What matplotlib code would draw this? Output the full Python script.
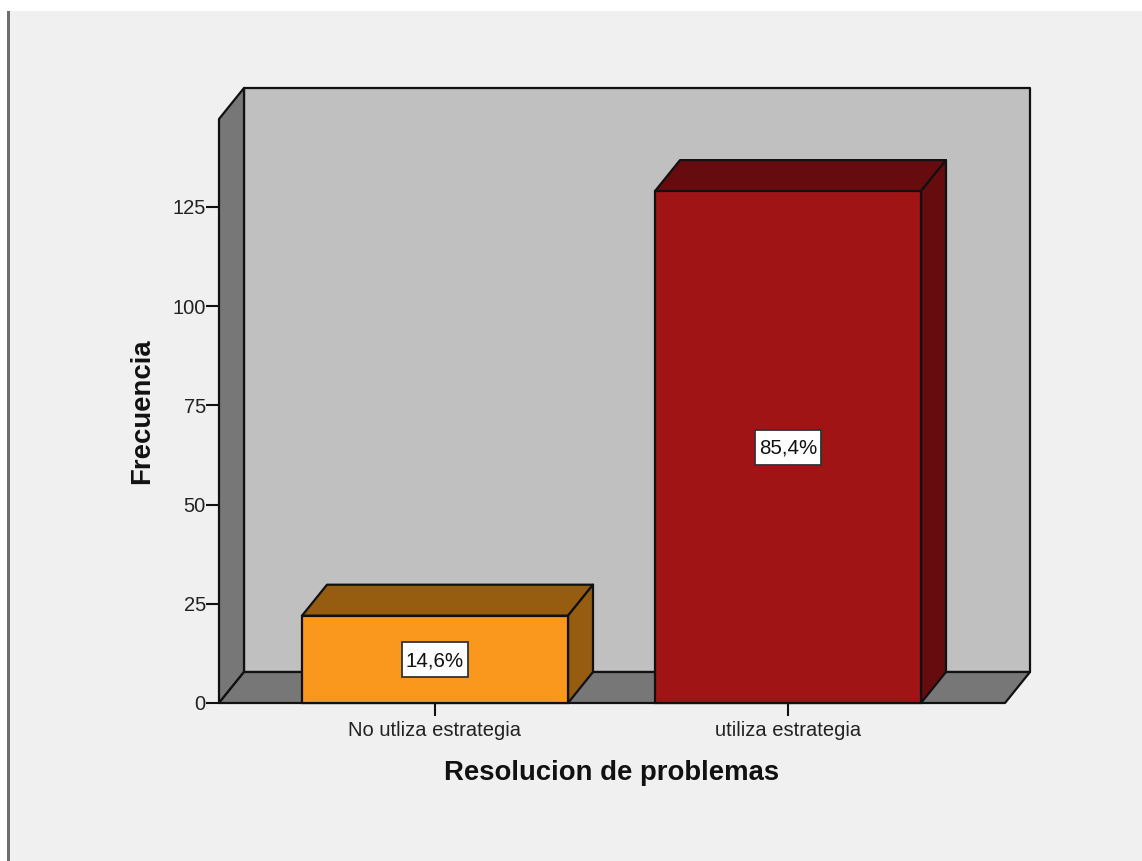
import matplotlib
matplotlib.use("Agg")
import matplotlib.pyplot as plt
from matplotlib.patches import Polygon, Rectangle

categories = ["No utliza estrategia", "utiliza estrategia"]
counts = [22, 129]
pct_labels = ["14,6%", "85,4%"]
yticks = [0, 25, 50, 75, 100, 125]

W, H = 1142, 861
plt.rcParams["font.family"] = ["Liberation Sans", "DejaVu Sans"]

fig = plt.figure(figsize=(W / 100, H / 100), dpi=100, facecolor="white")

# light panel + dark line on the left, in pixel coords
fig.patches.append(Rectangle((8 / W, 0), 1, 1 - 11 / H, transform=fig.transFigure,
                             facecolor="#f0f0f0", edgecolor="none", zorder=-5))
fig.patches.append(Rectangle((7 / W, 0), 3 / W, 1 - 11 / H, transform=fig.transFigure,
                             facecolor="#6e6e6e", edgecolor="none", zorder=-4))

# front plane of the chart
left, right, bottom = 219, 1005, 703
px_per_unit = 3.968
ymax = (bottom - 119) / px_per_unit
ax = fig.add_axes([left / W, 1 - bottom / H, (right - left) / W, (bottom - 119) / H])
ax.patch.set_visible(False)
ax.set_ylim(0, ymax)

spacing = 353
x0 = -(435 - left) / spacing
ax.set_xlim(x0, x0 + (right - left) / spacing)
bar_w = 266 / spacing
dx = 25 / spacing
dy = 31 / px_per_unit

for s in ax.spines.values():
    s.set_visible(False)

edge = "#111111"
lw = 1.6


def poly(pts, color, z):
    ax.add_patch(Polygon(pts, closed=True, facecolor=color, edgecolor=edge,
                         linewidth=lw, joinstyle="round", clip_on=False, zorder=z))


xl, xr = x0, x0 + (right - left) / spacing
# back wall, left wall, floor
poly([(xl + dx, dy), (xr + dx, dy), (xr + dx, ymax + dy), (xl + dx, ymax + dy)], "#c0c0c0", 1)
poly([(xl, 0), (xl + dx, dy), (xl + dx, ymax + dy), (xl, ymax)], "#777777", 2)
poly([(xl, 0), (xr, 0), (xr + dx, dy), (xl + dx, dy)], "#777777", 2)

front_colors = ["#fa981e", "#a01416"]
top_colors = ["#965c10", "#660c0f"]
side_colors = ["#965c10", "#660c0f"]

bars = ax.bar(range(len(counts)), counts, width=bar_w, color=front_colors,
              edgecolor=edge, linewidth=lw, zorder=5, clip_on=False)

box_w = 66 / spacing
box_h = 35 / px_per_unit
for i, rect in enumerate(bars):
    x1, x2 = rect.get_x(), rect.get_x() + rect.get_width()
    h = rect.get_height()
    poly([(x1, h), (x2, h), (x2 + dx, h + dy), (x1 + dx, h + dy)], top_colors[i], 4)
    poly([(x2, 0), (x2 + dx, dy), (x2 + dx, h + dy), (x2, h)], side_colors[i], 4)
    ax.add_patch(Rectangle((i - box_w / 2, h / 2 - box_h / 2), box_w, box_h, facecolor="white",
                           edgecolor="#333333", linewidth=1.3, zorder=6))
    ax.text(i, h / 2 - 0.3, pct_labels[i], ha="center", va="center", fontsize=14.8,
            color="#111111", zorder=7)

ax.set_yticks(yticks)
ax.set_xticks(range(len(categories)))
ax.set_xticklabels(categories)
ax.tick_params(axis="y", length=9.5, width=1.5, color=edge, labelsize=14.5,
               labelcolor="#222222", pad=0)
ax.tick_params(axis="x", length=9.5, width=1.5, color=edge, labelsize=14.5,
               labelcolor="#222222", pad=3.5)

fig.text(142 / W, 1 - 411 / H, "Frecuencia", rotation=90, ha="center", va="center",
         fontsize=19.8, fontweight="bold", color="#111111")
fig.text(612 / W, 1 - 773 / H, "Resolucion de problemas", ha="center", va="center",
         fontsize=19.8, fontweight="bold", color="#111111")

fig.savefig("out.png", dpi=100, facecolor=fig.get_facecolor())
